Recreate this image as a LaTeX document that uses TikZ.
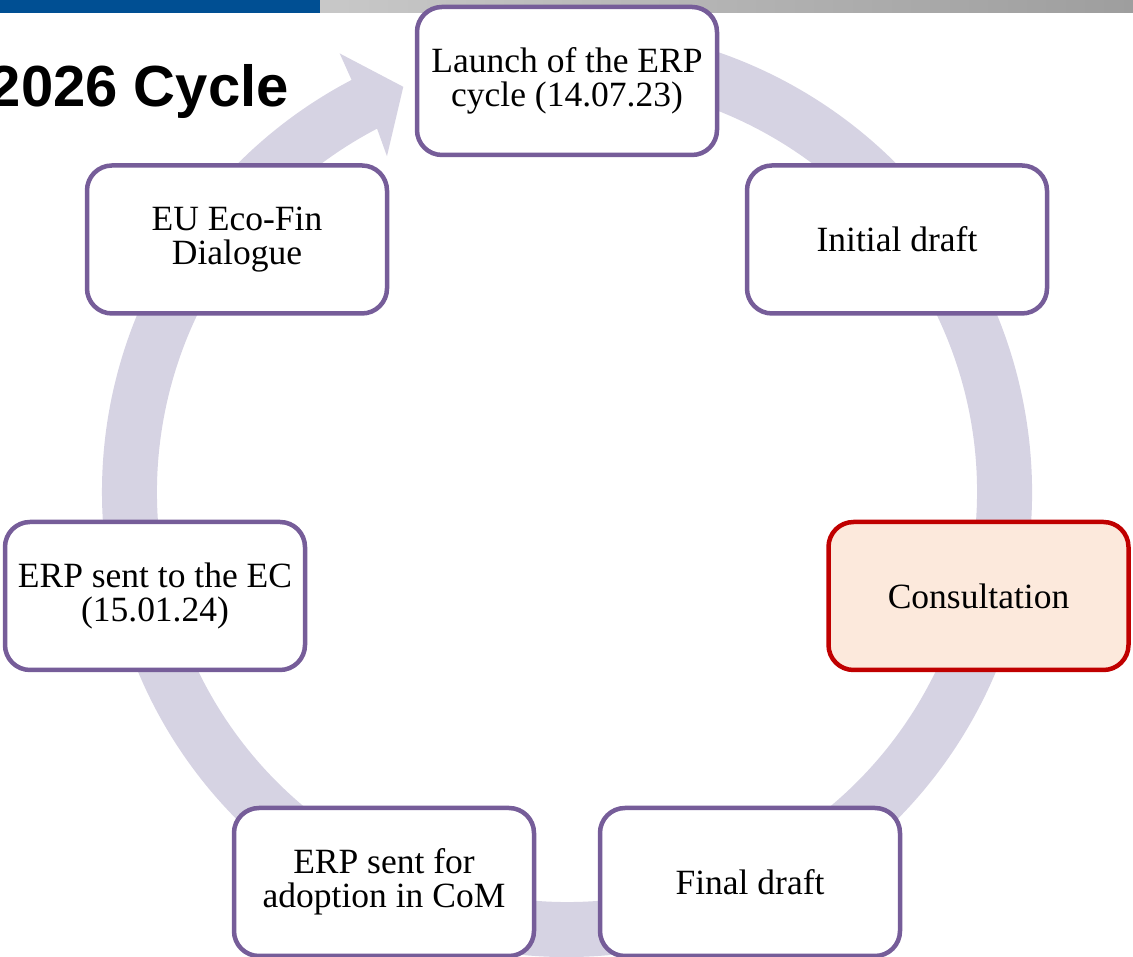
\documentclass[tikz,border=0pt]{standalone}
\usepackage{fontspec}
\setmainfont{Liberation Serif}
\newfontfamily\titlefont{Liberation Sans}
\usetikzlibrary{calc}
\definecolor{barblue}{HTML}{004F93}
\definecolor{barlight}{HTML}{C8C8C8}
\definecolor{bardark}{HTML}{9E9E9E}
\definecolor{ringcol}{HTML}{D6D3E3}
\definecolor{boxpurple}{HTML}{765D99}
\definecolor{consfill}{HTML}{FCE9DC}
\definecolor{consred}{HTML}{C00000}
\tikzset{
  stagebox/.style={draw=boxpurple, line width=4.5pt, fill=white, rounded corners=25pt,
    minimum width=300pt, minimum height=148pt, align=center, inner sep=0pt,
    font=\fontsize{35.5}{34}\selectfont},
  activebox/.style={stagebox, draw=consred, fill=consfill}
}
\begin{document}
\begin{tikzpicture}[x=1pt,y=1pt]
\useasboundingbox (0,0) rectangle (1133,957);
\clip (0,0) rectangle (1133,957);
% top bar
\fill[barblue] (0,944) rectangle (320,957);
\shade[left color=barlight, right color=bardark] (320,944) rectangle (1133,957);
% title
\node[anchor=base east, inner sep=0pt, font=\titlefont\bfseries\fontsize{58}{58}\selectfont] (title) at (289,850) {2026 Cycle};
% ring arrow
\coordinate (c) at (567,465);
\fill[ringcol] ($(c)+(100:465)$) arc[start angle=100, end angle=-242.4, radius=465]
  -- ($(c)+(117.4:494)$) -- ($(c)+(112:437)$) -- ($(c)+(118.2:381)$) -- ($(c)+(117.6:410)$)
  arc[start angle=-242.4, end angle=100, radius=410] -- cycle;
% stages
\node[stagebox] (launch) at (567,876) {Launch of the ERP\\cycle (14.07.23)};
\node[stagebox] (initial) at (897,717.5) {Initial draft};
\node[activebox] (consult) at (978.5,361) {Consultation};
\node[stagebox] (final) at (750,75) {Final draft};
\node[stagebox] (adopt) at (384,75) {ERP sent for\\adoption in CoM};
\node[stagebox] (sentec) at (155,361) {ERP sent to the EC\\(15.01.24)};
\node[stagebox] (ecofin) at (237,717.5) {EU Eco-Fin\\Dialogue};
\end{tikzpicture}
\end{document}
